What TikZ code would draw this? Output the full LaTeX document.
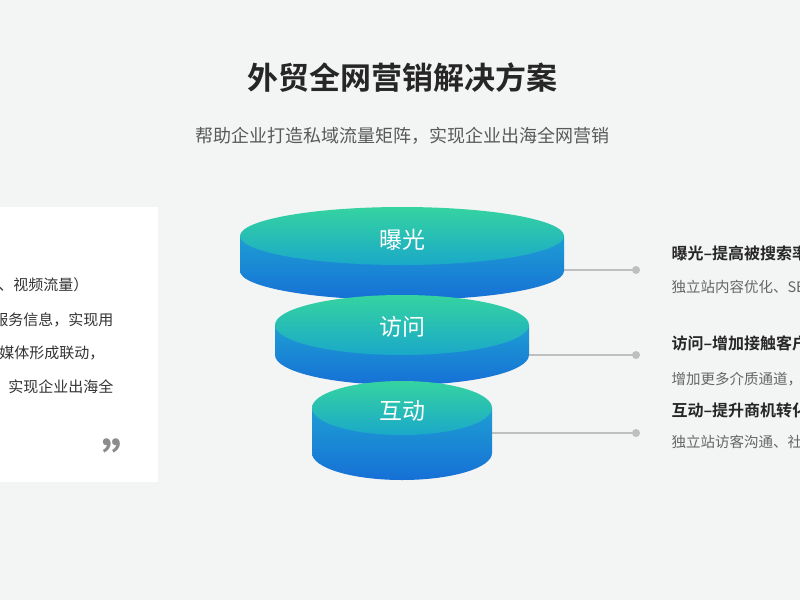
\documentclass[tikz,border=0pt]{standalone}
\usepackage{fontspec}
\setmainfont{Noto Sans CJK SC}
\newfontfamily\cjkb{Noto Sans CJK SC Bold}
\begin{document}
\begin{tikzpicture}[x=1pt,y=-1pt,
  hd/.style={anchor=west,font=\fontsize{16}{18}\selectfont\cjkb,text=black!85},
  sb/.style={anchor=west,font=\fontsize{14.5}{16}\selectfont,text=black!60},
  lt/.style={anchor=east,font=\fontsize{15}{17}\selectfont,text=black!80},
  lab/.style={font=\fontsize{23}{25}\selectfont,text=white},
  con/.style={draw=black!25,line width=1.2pt}]
\definecolor{bg}{HTML}{F3F4F4}
\definecolor{tgA}{HTML}{35D3A0}
\definecolor{tgB}{HTML}{1AA9C9}
\definecolor{bdA}{HTML}{1E9ED3}
\definecolor{bdB}{HTML}{1670D6}
\clip (0,0) rectangle (800,600);
\fill[bg] (0,0) rectangle (800,600);
\useasboundingbox (0,0) rectangle (800,600);
% title
\node[font=\fontsize{31}{34}\selectfont\cjkb,text=black!85] (title) at (402,78) {外贸全网营销解决方案};
\node[font=\fontsize{18}{20}\selectfont,text=black!65] (sub) at (402,136) {帮助企业打造私域流量矩阵，实现企业出海全网营销};
% left card
\fill[white] (-10,207) rectangle (158,482);
\node[lt] (l1) at (92,285) {（图片流量、视频流量）};
\node[lt] (l2) at (117,320) {提供产品服务信息，实现用};
\node[lt] (l3) at (108,353) {与社交媒体形成联动，};
\node[lt] (l4) at (117,387) {私域流量矩阵，实现企业出海全};
\node[font=\fontsize{44}{44}\selectfont\bfseries,text=black!45] (q) at (124,458) {”};
% connectors
\foreach \n/\xa/\y in {1/560/270,2/525/355,3/488/433}{
  \coordinate (s\n) at (\xa,\y); \coordinate (e\n) at (636,\y);
  \draw[con] (s\n) -- (e\n);
  \fill[black!25] (e\n) circle (4);
}
\newcommand\cyl[5]{% yt rx ry h name
  \shade[top color=bdA,bottom color=bdB] (402-#2,#1) -- (402-#2,#1+#4) arc[start angle=180,end angle=0,x radius=#2,y radius=#3] -- (402+#2,#1) -- cycle;
  \shade[top color=tgA,bottom color=tgB] (402,#1) ellipse[x radius=#2,y radius=#3];
}
\cyl{236}{162}{29}{35}{a}
\cyl{325}{127}{30}{30}{b}
\cyl{408}{90}{27}{45}{c}
\node[lab] (ca) at (402,240) {曝光};
\node[lab] (cb) at (402,327) {访问};
\node[lab] (cc) at (402,411) {互动};
% right texts
\node[hd] (h1) at (668,253) {曝光–提高被搜索率};
\node[sb] (t1) at (668,287) {独立站内容优化、SEO};
\node[hd] (h2) at (668,343) {访问–增加接触客户};
\node[sb] (t2) at (668,379) {增加更多介质通道，};
\node[hd] (h3) at (668,410) {互动–提升商机转化};
\node[sb] (t3) at (668,442) {独立站访客沟通、社交};
\end{tikzpicture}
\end{document}
